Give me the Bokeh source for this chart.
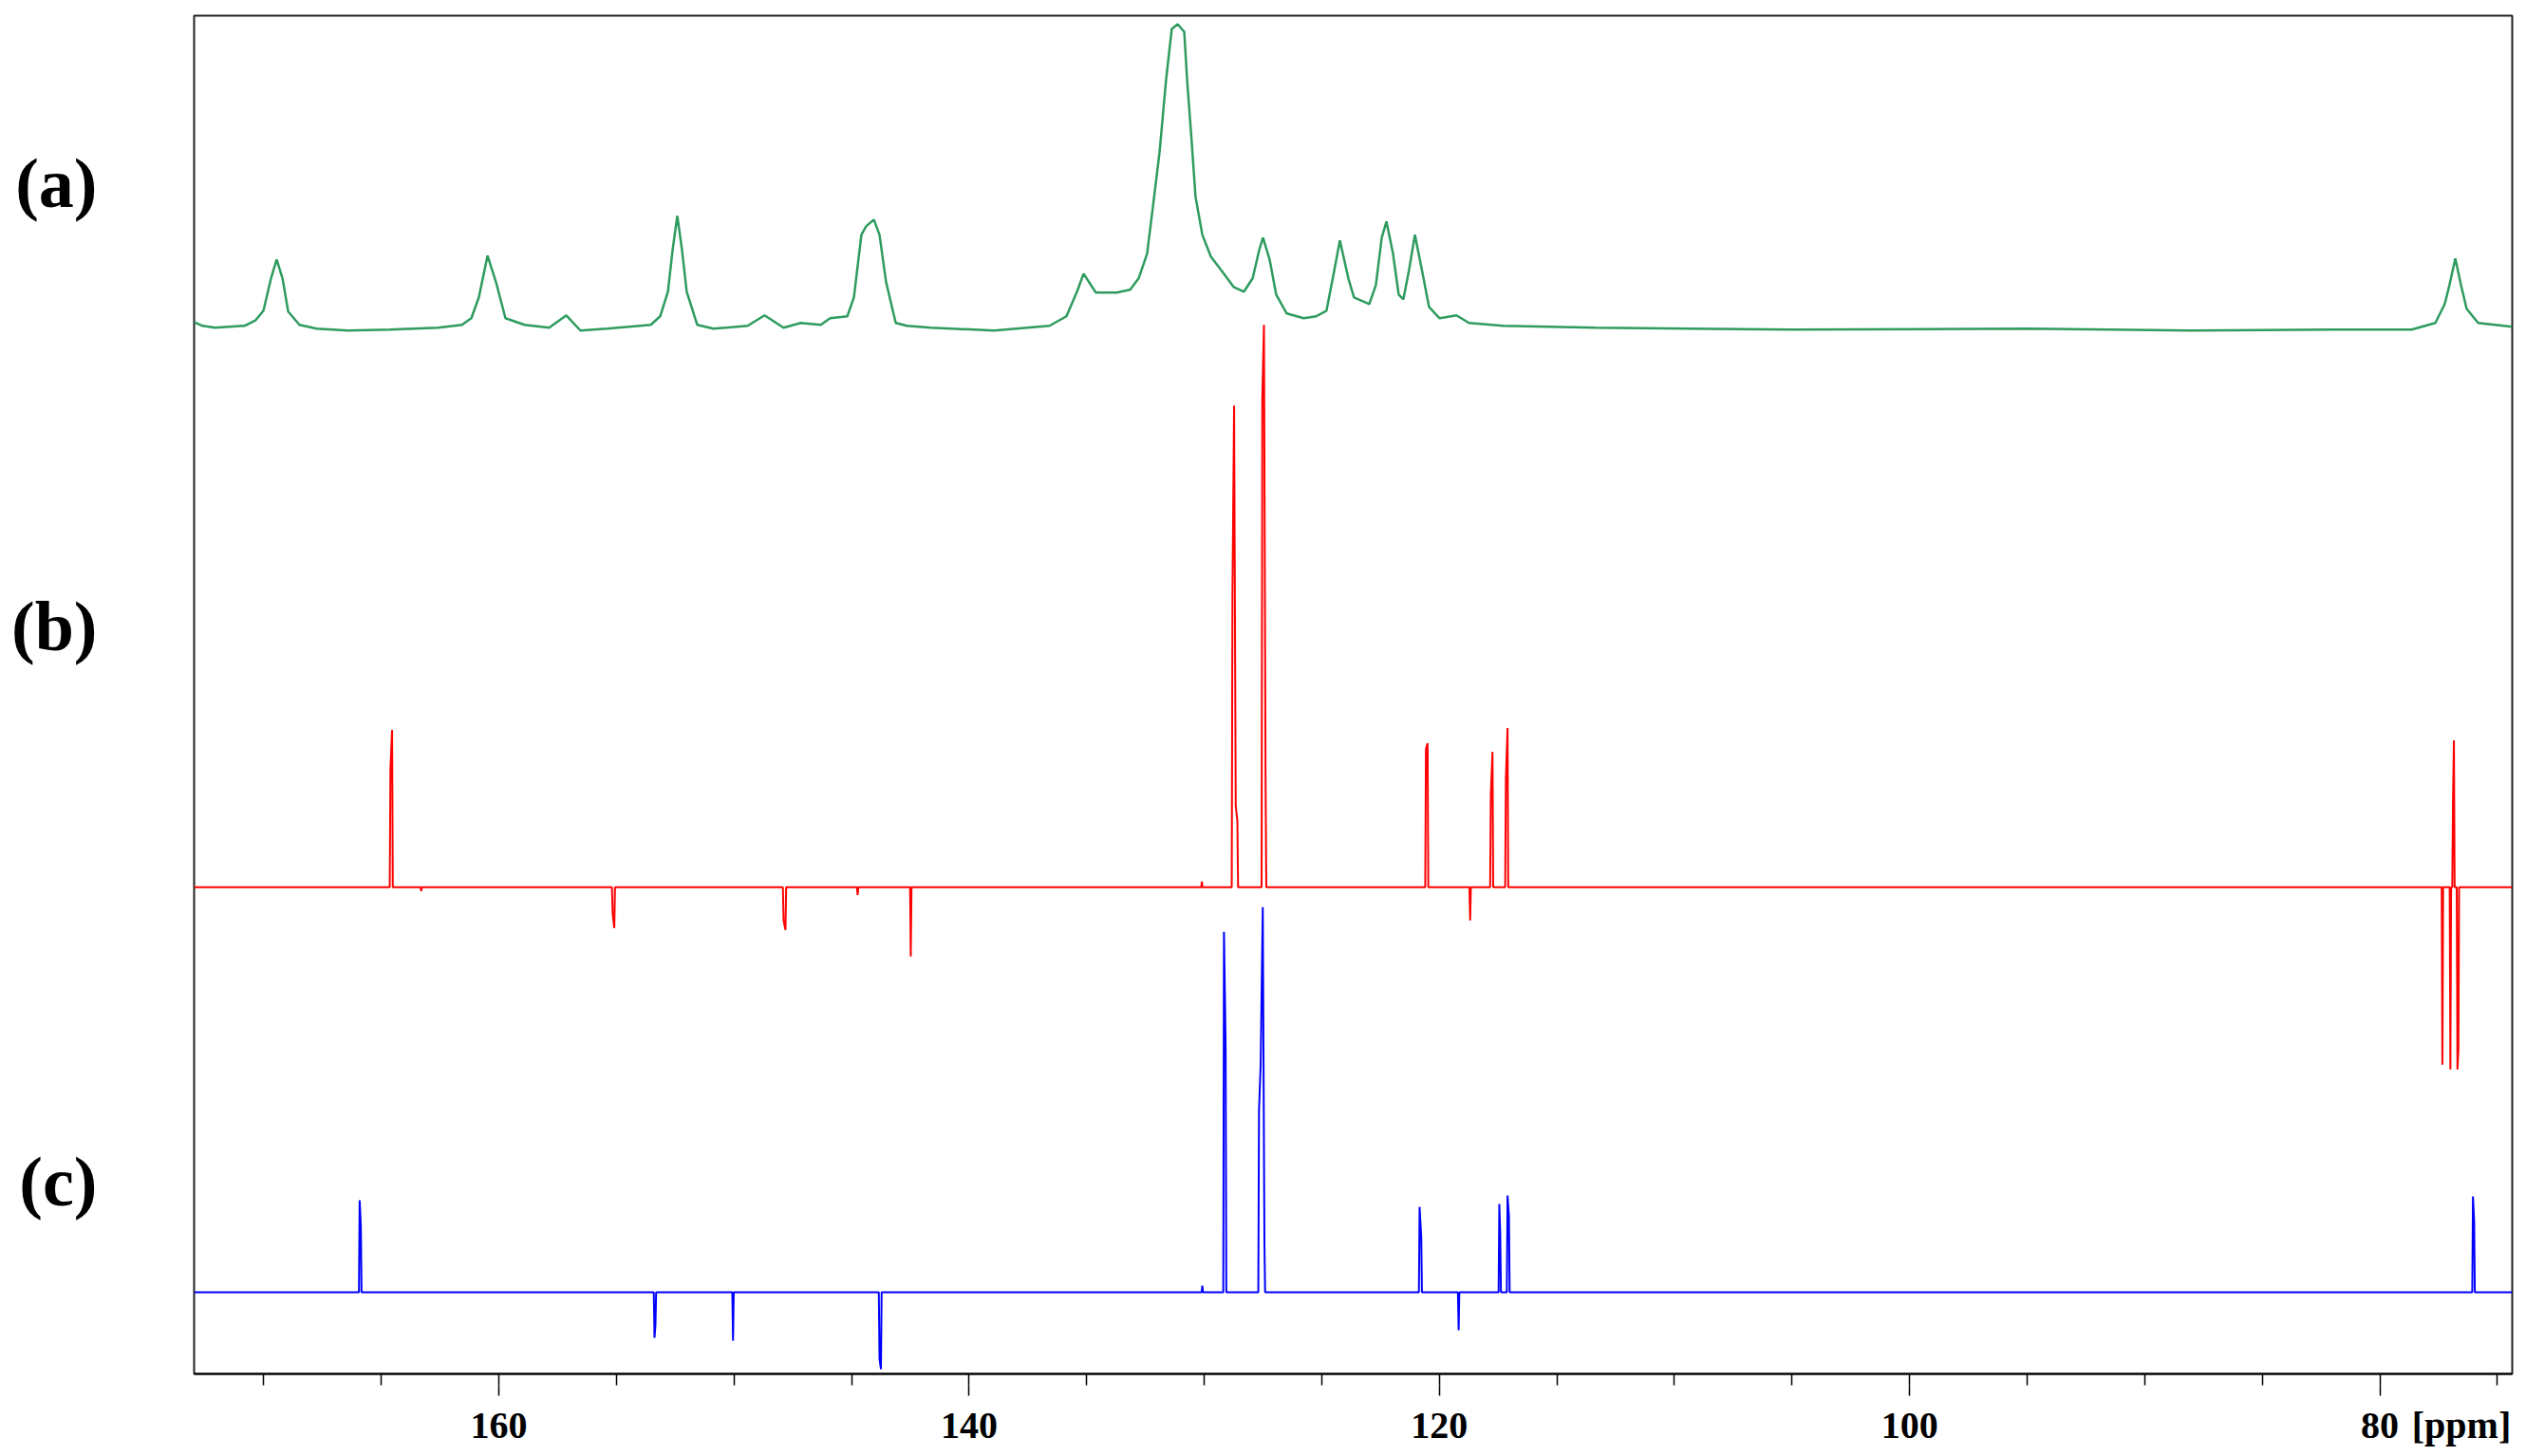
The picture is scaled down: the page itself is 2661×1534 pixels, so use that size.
from bokeh.plotting import figure
from bokeh.models import Range1d, FixedTicker, LinearAxis
from bokeh.embed import file_html
from bokeh.resources import INLINE

# ---------------- data ----------------
# (a) broad spectrum: chemical shift [ppm] and intensity above its baseline
a_ppm = [172.96, 172.60, 172.07, 170.82, 170.34, 170.01, 169.69, 169.45, 169.20, 168.96,
         168.48, 167.75, 166.42, 164.64, 162.58, 161.57, 161.17, 160.85, 160.48, 160.12,
         159.72, 158.91, 157.86, 157.13, 156.53, 155.40, 153.54, 153.14, 152.81, 152.61,
         152.41, 152.21, 152.01, 151.56, 150.88, 149.42, 148.70, 147.89, 147.16, 146.31,
         145.91, 145.18, 144.90, 144.58, 144.38, 144.05, 143.81, 143.53, 143.12, 142.64,
         141.63, 138.93, 136.58, 135.86, 135.41, 135.13, 134.61, 133.72, 133.15, 132.79,
         132.43, 132.18, 131.90, 131.62, 131.38, 131.13, 130.85, 130.73, 130.53, 130.37,
         130.08, 129.72, 129.20, 128.75, 128.31, 127.94, 127.66, 127.50, 127.22, 126.94,
         126.49, 125.77, 125.24, 124.80, 124.51, 124.23, 123.87, 123.63, 122.98, 122.70,
         122.45, 122.25, 121.97, 121.73, 121.53, 121.28, 121.04, 120.72, 120.44, 119.99,
         119.27, 118.74, 117.29, 113.37, 105.00, 95.00, 88.00, 82.00, 78.65, 77.64,
         77.24, 77.04, 76.79, 76.55, 76.31, 75.82, 74.37]
a_int = [6, 2, 0, 2, 8, 18, 52, 72, 52, 17,
         3, -1, -3, -2, 0, 3, 10, 32, 76, 48,
         10, 3, 0, 13, -3, -1, 3, 12, 38, 82,
         118, 82, 38, 3, -1, 2, 13, 0, 5, 3,
         10, 12, 32, 98, 107, 114, 98, 48, 5, 2,
         0, -3, 2, 12, 38, 57, 37, 37, 40, 52,
         78, 128, 185, 262, 315, 320, 312, 262, 195, 138,
         98, 75, 58, 43, 38, 52, 82, 95, 72, 35,
         15, 10, 12, 18, 55, 92, 52, 32, 25, 45,
         95, 112, 78, 35, 30, 62, 98, 58, 22, 10,
         13, 5, 2, 0, -2, -1, -3, -2, -2, 5,
         25, 45, 73, 45, 20, 5, 1]

# (b) spectrum: line positions [ppm] and signed heights
b_ppm = [164.61, 164.54, 163.30, 155.16, 155.09, 147.89, 147.81, 144.74, 142.48, 130.10,
         128.80, 128.73, 128.66, 128.59, 127.53, 127.46, 127.39, 120.57, 120.50, 118.69,
         117.81, 117.74, 117.17, 117.10, 77.34, 77.00, 76.89, 76.85, 76.70, 76.66]
b_int = [126, 166, -4, -28, -43, -35, -45, -8, -73, 6,
         307, 508, 86, 70, 515, 593, 109, 146, 152, -35,
         99, 143, 115, 168, -187, -192, 91, 155, -192, -172]

# (c) spectrum: line positions [ppm] and signed heights
c_ppm = [165.92, 165.87, 153.38, 153.34, 150.04, 143.81, 143.75, 130.08, 129.16, 129.09,
         127.67, 127.60, 127.51, 127.44, 120.84, 120.77, 119.18, 117.45, 117.41, 117.10,
         117.04, 76.04, 75.99]
c_int = [97, 70, -48, -35, -51, -70, -81, 7, 380, 260,
         192, 240, 406, 53, 90, 58, -40, 93, 62, 102,
         80, 101, 75]

major_ticks = [160, 140, 120, 100, 80]
minor_ticks = [170, 165, 155, 150, 145, 135, 130, 125, 115, 110, 105, 95, 90, 85, 75]
trace_labels = ["(a)", "(b)", "(c)"]
unit_text = "[ppm]"

# ---------------- layout / style ----------------
X_LEFT, X_RIGHT = 172.96, 74.37
Y_TOP = 1432
BASE_A, BASE_B, BASE_C = 1103, 513, 86
LABEL_Y = [1255, 788, 203]
UNIT_X = 76.53


def stick_trace(ppms, ints, gap=0.1, half=0.03):
    pairs = sorted(zip(ppms, ints), key=lambda t: -t[0])
    clusters = []
    for p_, i_ in pairs:
        if clusters and clusters[-1][-1][0] - p_ < gap:
            clusters[-1].append((p_, i_))
        else:
            clusters.append([(p_, i_)])
    xs, ys = [X_LEFT], [0]
    for cl in clusters:
        xs.append(cl[0][0] + half); ys.append(0)
        for p_, i_ in cl:
            xs.append(p_); ys.append(i_)
        xs.append(cl[-1][0] - half); ys.append(0)
    xs.append(X_RIGHT); ys.append(0)
    return xs, ys


p = figure(width=2653, height=1526, output_backend="svg", toolbar_location=None,
           x_range=Range1d(X_LEFT, X_RIGHT), y_range=Range1d(0, Y_TOP),
           y_axis_location=None,
           min_border_left=204, min_border_right=7, min_border_top=16, min_border_bottom=78)
p.xgrid.visible = False
p.ygrid.visible = False
p.outline_line_color = "#222222"
p.outline_line_width = 2
p.background_fill_color = "white"
p.border_fill_color = "white"

TICK_FONT = "Liberation Sans Narrow"

# axis 1: axis line and the inner 12 px of every tick (no labels)
ax = p.xaxis[0]
ax.ticker = FixedTicker(ticks=[], minor_ticks=sorted(major_ticks + minor_ticks))
ax.axis_line_color = "black"
ax.axis_line_width = 2
ax.major_tick_in = 0
ax.major_tick_out = 12
ax.minor_tick_in = 0
ax.minor_tick_out = 12
ax.major_tick_line_color = None
ax.minor_tick_line_color = "black"
ax.minor_tick_line_width = 1.5
ax.major_label_standoff = 0

# axis 2: outer part of the major ticks, tick values and the unit
ax2 = LinearAxis(ticker=FixedTicker(ticks=major_ticks + [UNIT_X], minor_ticks=major_ticks),
                 major_label_overrides={UNIT_X: unit_text})
ax2.axis_line_color = None
ax2.major_tick_line_color = None
ax2.major_tick_in = 0
ax2.major_tick_out = 11
ax2.minor_tick_in = 0
ax2.minor_tick_out = 11
ax2.minor_tick_line_color = "black"
ax2.minor_tick_line_width = 1.5
ax2.major_label_text_font = TICK_FONT
ax2.major_label_text_font_style = "bold"
ax2.major_label_text_font_size = "40px"
ax2.major_label_text_color = "black"
ax2.major_label_standoff = 8
p.add_layout(ax2, "below")

# left axis used for the trace labels
ay = LinearAxis(ticker=FixedTicker(ticks=LABEL_Y, minor_ticks=[]),
                major_label_overrides=dict(zip(LABEL_Y, trace_labels)))
ay.axis_line_color = None
ay.major_tick_line_color = None
ay.minor_tick_line_color = None
ay.major_tick_in = 0
ay.major_tick_out = 0
ay.minor_tick_in = 0
ay.minor_tick_out = 0
ay.major_label_text_font = "Liberation Serif"
ay.major_label_text_font_style = "bold"
ay.major_label_text_font_size = "74px"
ay.major_label_text_color = "black"
ay.major_label_standoff = 102
p.add_layout(ay, "left")

# (a)
p.line(a_ppm, [BASE_A + v for v in a_int], line_color="#2E9B5F", line_width=2.5)
# (b)
bx, by = stick_trace(b_ppm, b_int)
p.line(bx, [BASE_B + v for v in by], line_color="#FF0000", line_width=2)
# (c)
cx, cy = stick_trace(c_ppm, c_int)
p.line(cx, [BASE_C + v for v in cy], line_color="#0000FF", line_width=2)

open("out.html", "w").write(file_html(p, INLINE))
